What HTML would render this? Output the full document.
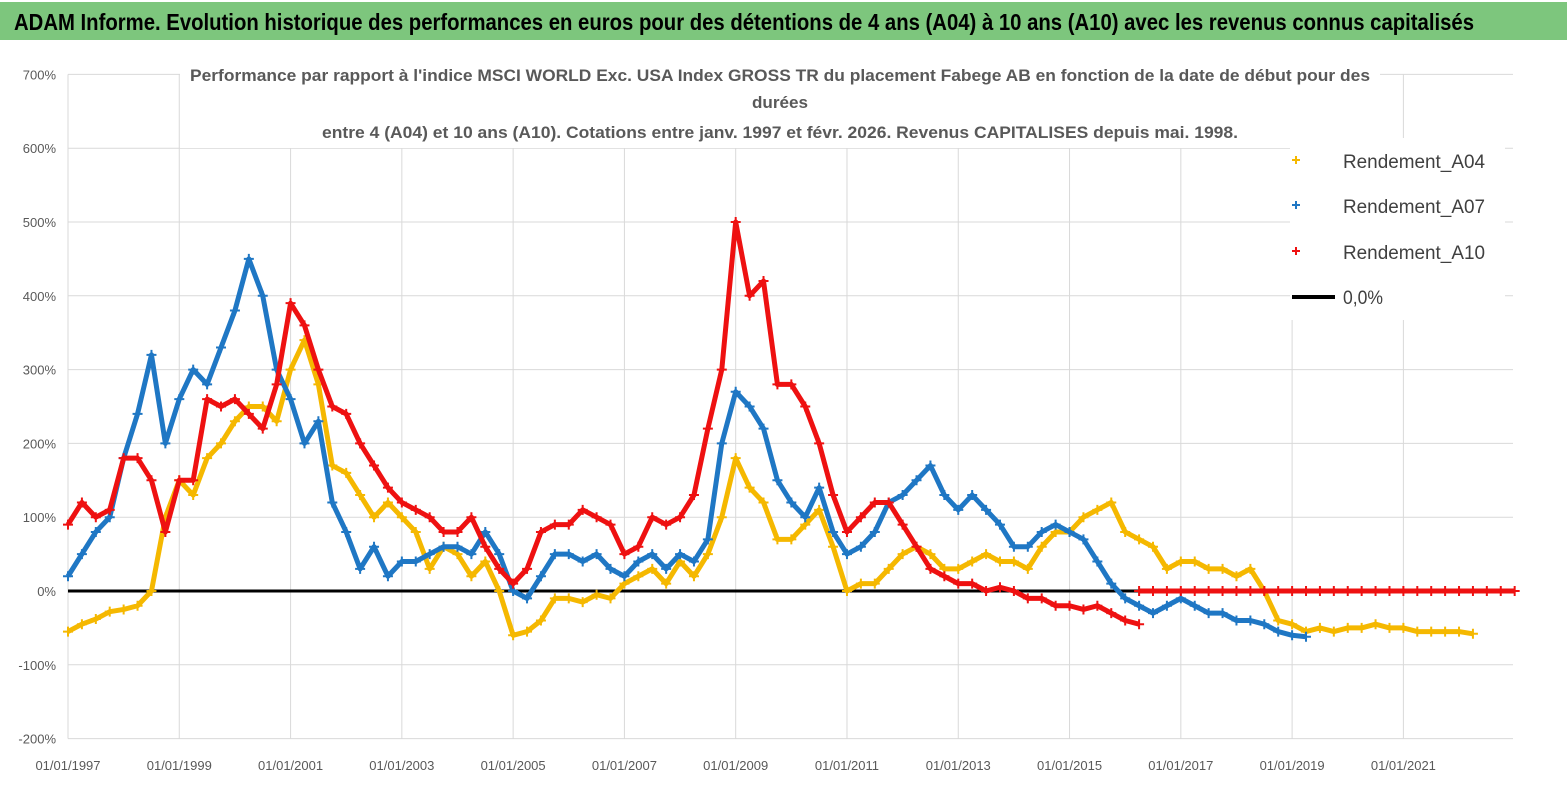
<!DOCTYPE html>
<html><head><meta charset="utf-8"><style>
html,body{margin:0;padding:0;background:#fff;}
svg{display:block;font-family:"Liberation Sans Narrow","Liberation Sans",sans-serif;}
</style></head><body>
<svg id="chart" width="1567" height="790" viewBox="0 0 1567 790">
<rect x="0" y="0" width="1567" height="790" fill="#fff"/>
<rect x="0" y="2" width="1567" height="38" fill="#7dc67d"/>
<text x="14" y="30" font-size="23" font-weight="bold" fill="#000" textLength="1460" lengthAdjust="spacingAndGlyphs">ADAM Informe. Evolution historique des performances en euros pour des détentions de 4 ans (A04) à 10 ans (A10) avec les revenus connus capitalisés</text>
<g id="grid"></g>
<g id="yaxis"></g>
<g id="xaxis"></g>
<g id="series"></g>
<g font-weight="bold" font-size="17" fill="#595959" text-anchor="middle">
<rect x="180" y="62" width="1200" height="86" fill="#fff"/>
<text x="780" y="81" textLength="1180" lengthAdjust="spacingAndGlyphs">Performance par rapport à l'indice MSCI WORLD Exc. USA Index GROSS TR  du placement Fabege AB en fonction de la date de début pour des</text>
<text x="780" y="108" textLength="56" lengthAdjust="spacingAndGlyphs">durées</text>
<text x="780" y="138" textLength="916" lengthAdjust="spacingAndGlyphs">entre 4 (A04) et 10 ans (A10). Cotations entre janv. 1997 et févr. 2026. Revenus CAPITALISES depuis mai. 1998.</text>
</g>
<g>
<rect x="1290" y="138" width="215" height="182" fill="#fff"/>
<g><path d="M1292,160h8M1296,156v8" stroke="#f5b800" stroke-width="2"/><text x="1343" y="168" font-size="19" fill="#404040" textLength="142" lengthAdjust="spacingAndGlyphs">Rendement_A04</text></g>
<g><path d="M1292,205h8M1296,201v8" stroke="#1f77c4" stroke-width="2"/><text x="1343" y="213" font-size="19" fill="#404040" textLength="142" lengthAdjust="spacingAndGlyphs">Rendement_A07</text></g>
<g><path d="M1292,251h8M1296,247v8" stroke="#ee1111" stroke-width="2"/><text x="1343" y="259" font-size="19" fill="#404040" textLength="142" lengthAdjust="spacingAndGlyphs">Rendement_A10</text></g>
<g><line x1="1292" y1="297" x2="1335" y2="297" stroke="#000" stroke-width="4"/><text x="1343" y="304" font-size="19" fill="#404040" textLength="40" lengthAdjust="spacingAndGlyphs">0,0%</text></g>
</g>
</svg>
<script>
const yTicks=[700,600,500,400,300,200,100,0,-100,-200];
const xTickYears=[1997,1999,2001,2003,2005,2007,2009,2011,2013,2015,2017,2019,2021];
const step=0.25;
const a04Start=1997;
const a04=[-55,-45,-38,-28,-25,-20,0,100,150,130,180,200,230,250,250,230,300,340,280,170,160,130,100,120,100,80,30,60,50,20,40,0,-60,-55,-40,-10,-10,-15,-5,-10,10,20,30,10,40,20,50,100,180,140,120,70,70,90,110,60,0,10,10,30,50,60,50,30,30,40,50,40,40,30,60,80,80,100,110,120,80,70,60,30,40,40,30,30,20,30,0,-40,-45,-55,-50,-55,-50,-50,-45,-50,-50,-55,-55,-55,-55,-58];
const a07Start=1997;
const a07=[20,50,80,100,180,240,320,200,260,300,280,330,380,450,400,300,260,200,230,120,80,30,60,20,40,40,50,60,60,50,80,50,0,-10,20,50,50,40,50,30,20,40,50,30,50,40,70,200,270,250,220,150,120,100,140,80,50,60,80,120,130,150,170,130,110,130,110,90,60,60,80,90,80,70,40,10,-10,-20,-30,-20,-10,-20,-30,-30,-40,-40,-45,-55,-60,-62];
const a10Start=1997;
const a10=[90,120,100,110,180,180,150,80,150,150,260,250,260,240,220,280,390,360,300,250,240,200,170,140,120,110,100,80,80,100,60,30,10,30,80,90,90,110,100,90,50,60,100,90,100,130,220,300,500,400,420,280,280,250,200,130,80,100,120,120,90,60,30,20,10,10,0,5,0,-10,-10,-20,-20,-25,-20,-30,-40,-45];
const a10ZeroStart=2016.25;
const a10Zero=[0,0,0,0,0,0,0,0,0,0,0,0,0,0,0,0,0,0,0,0,0,0,0,0,0,0,0,0];
const X0=68,X1=1513,YR0=1997,YR1=2022.97;
const xs=y=>X0+(y-YR0)/(YR1-YR0)*(X1-X0);
const ys=v=>591-v*0.738;
const NS='http://www.w3.org/2000/svg';
const mk=(t,a,p)=>{const e=document.createElementNS(NS,t);for(const k in a)e.setAttribute(k,a[k]);p.appendChild(e);return e;};
const grid=document.getElementById('grid'),ya=document.getElementById('yaxis'),xa=document.getElementById('xaxis'),se=document.getElementById('series');
yTicks.forEach(v=>{
  const l=mk('line',{x1:X0,x2:X1,y1:ys(v),y2:ys(v),stroke:'#d9d9d9','stroke-width':1},grid);
  
  
  const t=mk('text',{x:56,y:ys(v)+5,'text-anchor':'end','font-size':13,fill:'#595959'},ya);
  t.textContent=v+'%';
  
  
});
xTickYears.forEach(y=>{
  const l=mk('line',{x1:xs(y),x2:xs(y),y1:ys(700),y2:ys(-200),stroke:'#d9d9d9','stroke-width':1},grid);
  
  
  const t=mk('text',{x:xs(y),y:770,'text-anchor':'middle','font-size':13,fill:'#595959'},xa);
  t.textContent='01/01/'+y;
  
  
});
const zl=mk('line',{x1:X0,x2:X1,y1:ys(0),y2:ys(0),stroke:'#000','stroke-width':3},se);


function draw(arr,start,color,name){
  const g=mk('g',{},se);
  
  
  const pts=arr.map((v,i)=>[xs(start+i*step),ys(v)]);
  mk('polyline',{points:pts.map(p=>p.join(',')).join(' '),fill:'none',stroke:color,'stroke-width':5,'stroke-linejoin':'round'},g);
  let d='';pts.forEach(p=>{d+=`M${p[0]-5},${p[1]}h10M${p[0]},${p[1]-5}v10`;});
  mk('path',{d:d,stroke:color,'stroke-width':2,fill:'none'},g);
}
draw(a04,a04Start,'#f5b800','series-a04');
draw(a07,a07Start,'#1f77c4','series-a07');
draw(a10,a10Start,'#ee1111','series-a10');
draw(a10Zero,a10ZeroStart,'#ee1111','series-a10-zero');
</script>
</body></html>
